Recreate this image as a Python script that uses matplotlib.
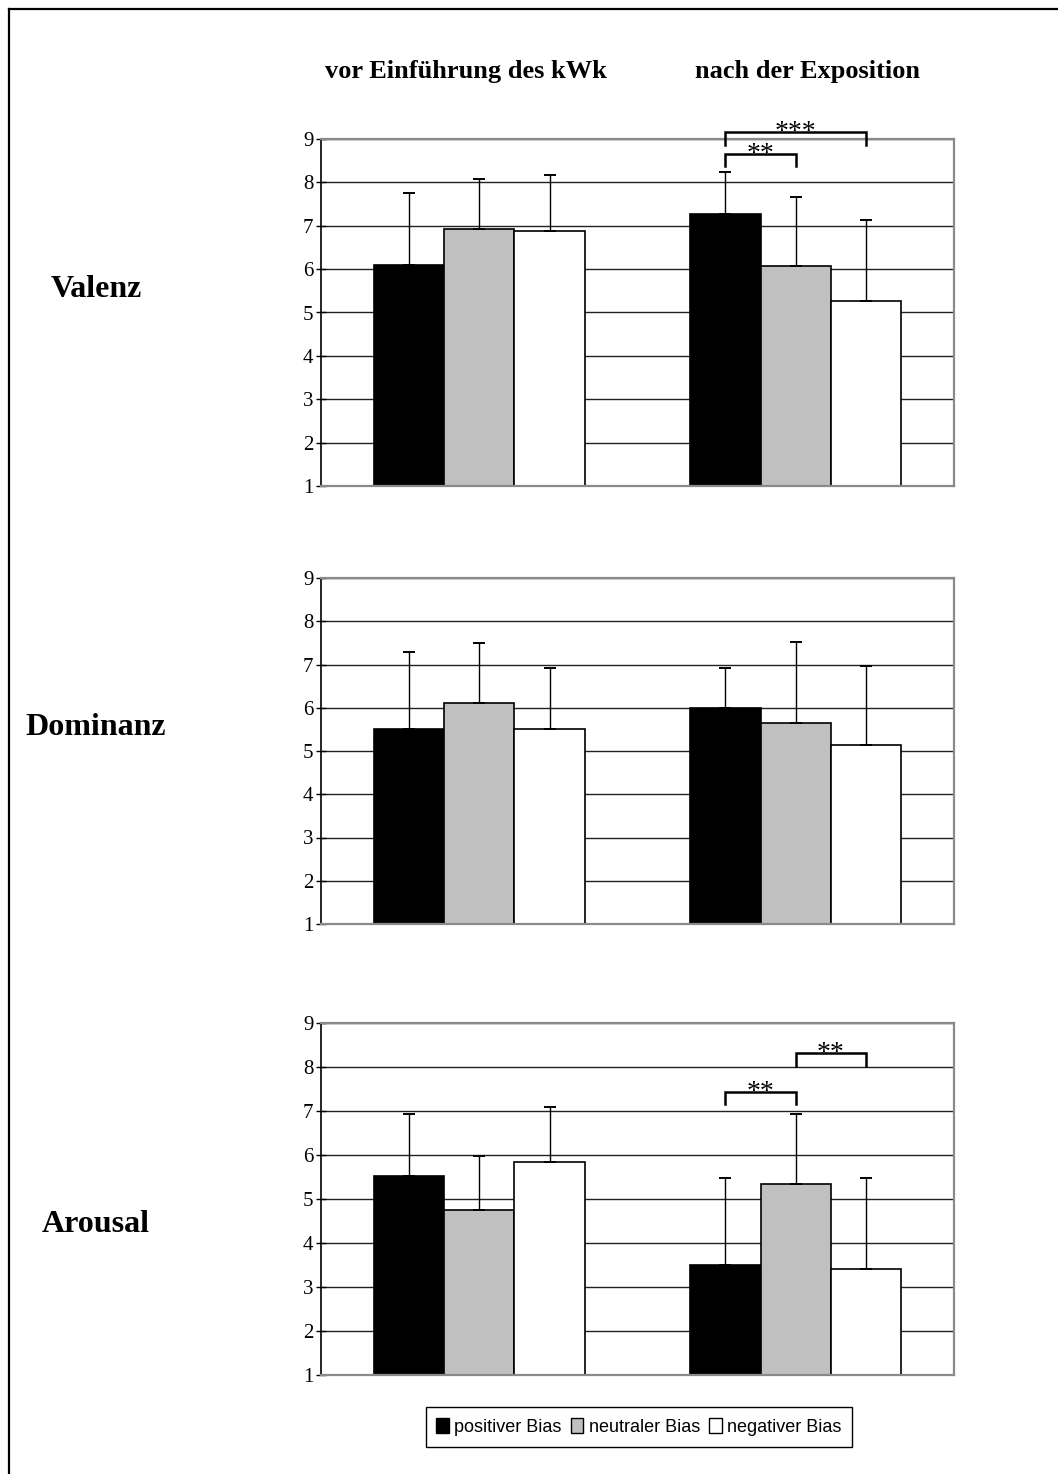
import matplotlib
matplotlib.use('Agg')
import matplotlib.pyplot as plt
from matplotlib.patches import Patch
from matplotlib.lines import Line2D

plt.rcParams['font.family'] = ['Liberation Serif', 'DejaVu Serif']

# ---------------- data ----------------
groups = ["vor Einführung des kWk", "nach der Exposition"]
series = ["positiver Bias", "neutraler Bias", "negativer Bias"]
panels = ["Valenz", "Dominanz", "Arousal"]
colors = ["#000000", "#C0C0C0", "#FFFFFF"]

valenz_pos = [6.09, 7.26]
valenz_neu = [6.93, 6.08]
valenz_neg = [6.87, 5.26]
valenz_pos_err = [1.67, 0.98]
valenz_neu_err = [1.15, 1.58]
valenz_neg_err = [1.31, 1.87]

dominanz_pos = [5.52, 6.00]
dominanz_neu = [6.11, 5.65]
dominanz_neg = [5.52, 5.13]
dominanz_pos_err = [1.78, 0.92]
dominanz_neu_err = [1.38, 1.87]
dominanz_neg_err = [1.40, 1.84]

arousal_pos = [5.53, 3.50]
arousal_neu = [4.74, 5.35]
arousal_neg = [5.85, 3.42]
arousal_pos_err = [1.40, 1.98]
arousal_neu_err = [1.24, 1.58]
arousal_neg_err = [1.23, 2.06]

# significance brackets: (panel, group, bar_a, bar_b, y_top, y_end_a, y_end_b, label)
sig_brackets = [
    (0, 1, 0, 2, 9.15, 8.87, 8.87, "***"),
    (0, 1, 0, 1, 8.65, 8.37, 8.37, "**"),
    (2, 1, 0, 1, 7.43, 7.15, 7.15, "**"),
    (2, 1, 1, 2, 8.32, 8.02, 8.02, "**"),
]

means = [
    [valenz_pos, valenz_neu, valenz_neg],
    [dominanz_pos, dominanz_neu, dominanz_neg],
    [arousal_pos, arousal_neu, arousal_neg],
]
errors = [
    [valenz_pos_err, valenz_neu_err, valenz_neg_err],
    [dominanz_pos_err, dominanz_neu_err, dominanz_neg_err],
    [arousal_pos_err, arousal_neu_err, arousal_neg_err],
]

# ---------------- layout ----------------
W, H = 1058, 1474
fig = plt.figure(figsize=(W / 100, H / 100), dpi=100)
fig.patch.set_facecolor('white')

panel_px = [(139, 486), (578, 924), (1023, 1375)]
label_baseline_px = [297, 735, 1232]
bw = 0.222
offsets = [-bw, 0.0, bw]
xs = list(range(len(groups)))

axes = []
for p, (top, bot) in enumerate(panel_px):
    ax = fig.add_axes([321 / W, 1 - bot / H, 633 / W, (bot - top) / H])
    axes.append(ax)
    ax.set_xlim(-0.5, 1.5)
    ax.set_ylim(1, 9)
    ax.set_yticks(range(1, 10))
    ax.set_xticks([])
    ax.yaxis.grid(True, color='#222222', lw=1.0)
    ax.set_axisbelow(True)
    for s in range(3):
        pos = [x + offsets[s] for x in xs]
        ax.bar(pos, means[p][s], bw, color=colors[s], edgecolor='black',
               linewidth=1.2, zorder=2)
        ax.errorbar(pos, means[p][s], yerr=[[0] * len(xs), errors[p][s]],
                    fmt='none', ecolor='black', elinewidth=1.0, capsize=4,
                    capthick=1.4, zorder=3)
    for side in ['top', 'right', 'bottom']:
        ax.spines[side].set_color('#8a8a8a')
        ax.spines[side].set_linewidth(1.6)
    ax.spines['left'].set_color('black')
    ax.spines['left'].set_linewidth(1.2)
    ax.tick_params(axis='y', direction='inout', length=7, width=1.0,
                   labelsize=15, pad=2, colors='black')
    fig.text(96 / W, 1 - label_baseline_px[p] / H, panels[p], ha='center',
             va='baseline', fontsize=23, fontweight='bold')

for (p, g, a, b, ytop, ya, yb, lab) in sig_brackets:
    ax = axes[p]
    x1 = xs[g] + offsets[a]
    x2 = xs[g] + offsets[b]
    ax.plot([x1, x1, x2, x2], [ya, ytop, ytop, yb], color='black', lw=1.8,
            clip_on=False, zorder=4, solid_joinstyle='miter')
    ax.annotate(lab, xy=((x1 + x2) / 2, ytop), xytext=(0, -5),
                textcoords='offset points', ha='center', va='baseline',
                fontsize=20, annotation_clip=False)

# column headers
fig.text(465.5 / W, 1 - 78 / H, groups[0], ha='center', va='baseline',
         fontsize=19, fontweight='bold')
fig.text(807.5 / W, 1 - 78 / H, groups[1], ha='center', va='baseline',
         fontsize=19, fontweight='bold')

# legend
handles = [Patch(facecolor=c, edgecolor='black', linewidth=1.0) for c in colors]
leg = fig.legend(handles, series, loc='center',
                 bbox_to_anchor=(639 / W, 1 - 1427 / H), ncol=3,
                 frameon=True, fancybox=False, edgecolor='black',
                 prop={'family': ['Liberation Sans', 'DejaVu Sans'], 'size': 13},
                 handlelength=0.7, handleheight=0.9, handletextpad=0.3,
                 columnspacing=0.5, borderpad=0.6, borderaxespad=0)
leg.get_frame().set_linewidth(1.0)
leg.get_frame().set_alpha(1)

# page frame (top and left)
fig.add_artist(Line2D([8.5 / W, 8.5 / W], [0, 1 - 8.5 / H], color='black',
                      lw=1.6, transform=fig.transFigure))
fig.add_artist(Line2D([8.5 / W, 1], [1 - 8.5 / H, 1 - 8.5 / H], color='black',
                      lw=1.6, transform=fig.transFigure))

fig.savefig('out.png', dpi=100)
